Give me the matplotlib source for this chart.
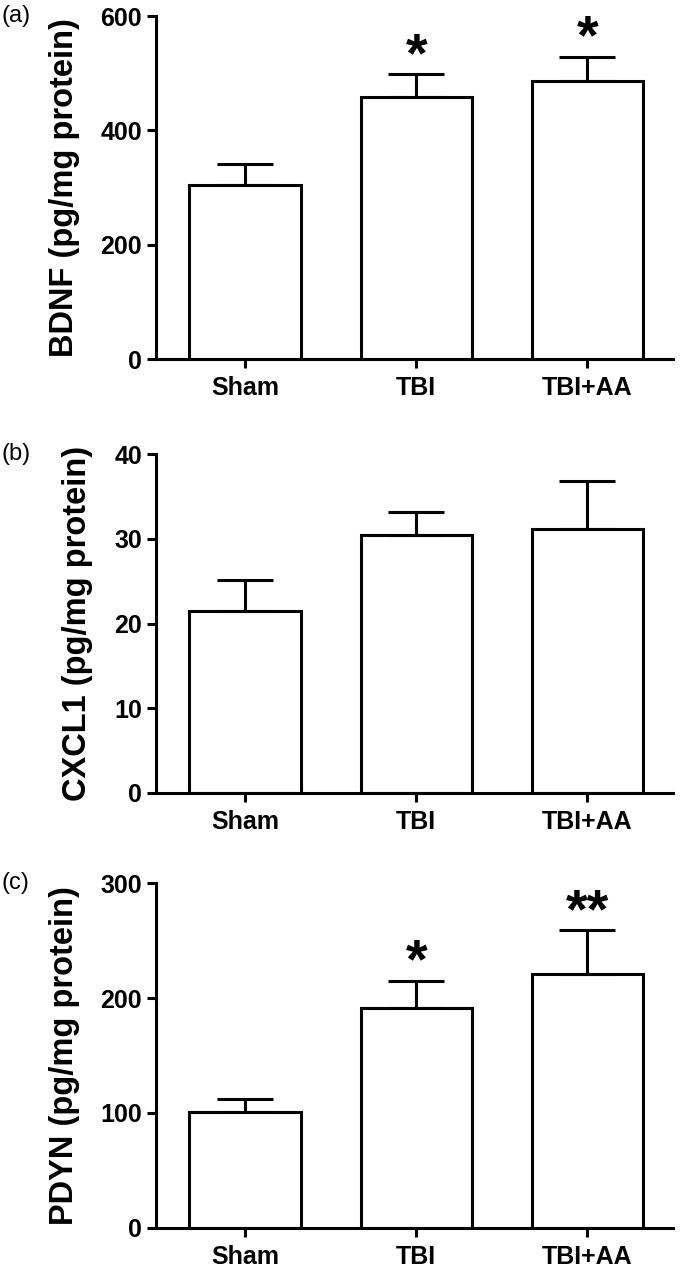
import numpy as np
import matplotlib
matplotlib.use("Agg")
import matplotlib.pyplot as plt

plt.rcParams['font.family'] = ['Liberation Sans', 'DejaVu Sans']

groups = ["Sham", "TBI", "TBI+AA"]

bdnf_mean = [305, 458, 487]
bdnf_err = [36, 40, 41]
bdnf_stars = ["", "*", "*"]

cxcl1_mean = [21.5, 30.5, 31.2]
cxcl1_err = [3.6, 2.6, 5.6]
cxcl1_stars = ["", "", ""]

pdyn_mean = [101, 191, 221]
pdyn_err = [11, 24, 38]
pdyn_stars = ["", "*", "**"]

panels = [
    ("(a)", "BDNF (pg/mg protein)", bdnf_mean, bdnf_err, bdnf_stars, [0, 200, 400, 600]),
    ("(b)", "CXCL1 (pg/mg protein)", cxcl1_mean, cxcl1_err, cxcl1_stars, [0, 10, 20, 30, 40]),
    ("(c)", "PDYN (pg/mg protein)", pdyn_mean, pdyn_err, pdyn_stars, [0, 100, 200, 300]),
]

# axes boxes in figure fraction (left, bottom, width, height)
boxes = [
    [0.2294, 0.7173, 0.7603, 0.2701],
    [0.2294, 0.3756, 0.7603, 0.2669],
    [0.2294, 0.0331, 0.7603, 0.2716],
]

fig = plt.figure(figsize=(6.8, 12.7), dpi=100)
lw = 2.2

for (tag, ylabel, mean, err, stars, yticks), box in zip(panels, boxes):
    ax = fig.add_axes(box)
    x = np.arange(len(groups))
    ax.bar(x, mean, width=0.65, color="white", edgecolor="black", linewidth=lw, zorder=2)
    ax.errorbar(x, mean, yerr=[np.zeros(len(mean)), err], fmt="none", ecolor="black",
                elinewidth=lw, capsize=20, capthick=lw, zorder=3)
    ymax = yticks[-1]
    for xi, m, e, s in zip(x, mean, err, stars):
        if s:
            ax.text(xi, m + e - ymax * 0.025, s, ha="center", va="bottom",
                    fontsize=40, fontweight="bold")
    ax.set_xlim(-0.52, 2.5)
    ax.set_ylim(0, ymax)
    ax.set_yticks(yticks)
    ax.set_xticks(x)
    ax.set_xticklabels(groups)
    for sp in ["top", "right"]:
        ax.spines[sp].set_visible(False)
    for sp in ["left", "bottom"]:
        ax.spines[sp].set_linewidth(lw)
    ax.tick_params(width=lw, length=6.5, labelsize=18)
    ax.tick_params(axis="x", pad=6)
    for lab in ax.get_xticklabels() + ax.get_yticklabels():
        lab.set_fontweight("bold")
    ax.set_ylabel(ylabel, fontsize=23.5, fontweight="bold", labelpad=15)
    top = box[1] + box[3]
    fig.text(0.002, top, tag, fontsize=17, ha="left", va="center")

plt.savefig("out.png", dpi=100)
